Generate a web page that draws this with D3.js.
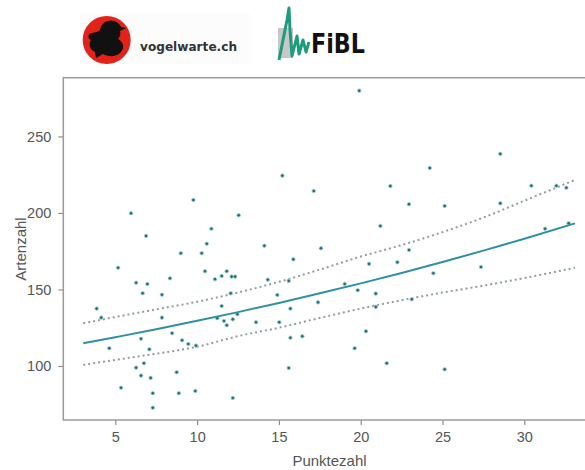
<!DOCTYPE html>
<html>
<head>
<meta charset="utf-8">
<script src="https://cdn.jsdelivr.net/npm/d3@7"></script>
<style>
  body { margin: 0; background: #fff; }
  svg { display: block; font-family: "Liberation Sans", Arial, sans-serif; }
</style>
</head>
<body>
<div id="main"></div>
<script>
// points (Punktezahl, Artenzahl)
const pointX = [9.77, 5.96, 12.54, 6.88, 10.87, 10.59, 9.00, 10.28, 5.17, 10.48,
  11.81, 11.09, 11.50, 12.11, 12.32, 6.27, 6.96, 8.34, 6.67, 7.85,
  3.86, 4.14, 7.85, 12.05, 11.50, 11.23, 11.64, 11.81, 12.18, 8.47,
  6.57, 4.63, 7.08, 9.08, 9.46, 9.93, 6.27, 6.75, 6.57, 7.16,
  8.75, 5.35, 7.29, 8.88, 9.89, 7.29, 12.18, 19.91, 15.21, 17.13,
  21.81, 22.95, 21.20, 14.11, 17.57, 22.95, 15.88, 14.32, 15.60, 20.51,
  22.24, 14.90, 19.02, 19.82, 20.92, 17.39, 15.70, 20.92, 12.46, 13.60,
  15.02, 15.70, 16.43, 20.32, 19.63, 21.59, 15.60, 28.53, 24.22, 25.13,
  28.53, 30.43, 31.96, 32.57, 31.27, 32.71, 24.44, 27.35, 23.12, 25.13];
const pointY = [208.5, 199.8, 198.5, 185.0, 189.7, 179.9, 173.7, 173.7, 164.2, 161.9,
  161.9, 156.7, 158.8, 158.4, 158.4, 154.4, 153.6, 157.3, 147.5, 146.6,
  137.5, 131.6, 131.6, 147.5, 139.2, 131.2, 129.4, 126.6, 130.5, 121.4,
  117.8, 111.6, 110.9, 116.8, 114.4, 113.3, 98.9, 101.8, 93.7, 92.2,
  95.9, 85.8, 82.2, 82.2, 83.7, 72.7, 79.1, 279.9, 224.4, 214.4,
  217.6, 205.7, 191.5, 178.6, 176.9, 175.8, 169.7, 156.4, 155.6, 166.7,
  167.8, 146.4, 153.6, 149.5, 147.3, 141.6, 137.5, 138.6, 133.8, 128.6,
  128.6, 118.5, 119.4, 122.7, 111.6, 101.8, 98.7, 238.6, 229.4, 204.6,
  206.3, 217.8, 217.8, 216.5, 189.7, 193.3, 160.6, 164.7, 143.6, 97.8];

// fitted line and its band
const fitX = [3.04, 5, 7.5, 10, 12.5, 15, 17.5, 20, 22.5, 25, 27.5, 30, 33.1];
const fitY = [114.8, 118.8, 124.0, 129.5, 135.2, 141.2, 147.5, 154.0, 160.8, 168.0, 175.4, 183.2, 193.2];
const upperY = [127.9, 132.0, 137.0, 142.0, 148.0, 155.0, 163.0, 171.5, 179.0, 187.5, 197.0, 208.0, 221.6];
const lowerY = [100.7, 104.0, 108.0, 112.6, 119.5, 125.0, 131.4, 137.5, 143.0, 148.0, 152.5, 157.5, 164.2];

const xTicks = [5, 10, 15, 20, 25, 30];
const yTicks = [100, 150, 200, 250];

const width = 585;
const height = 470;

const svg = d3.select("#main")
  .append("svg")
  .attr("width", width)
  .attr("height", height);

// ---- header logos ----
const logo = svg.append("g");

logo.append("rect")
  .attr("x", 80).attr("y", 14).attr("width", 170).attr("height", 50)
  .style("fill", "#fcfcfc");

logo.append("circle")
  .attr("cx", 106.7).attr("cy", 40).attr("r", 24)
  .style("fill", "#e2231a");

// rough bird silhouette
logo.append("path")
  .attr("d", "M100,30 C101,23 108,19 114,21 C118,22 120,25 121,27 L126,28 L120,31 C121,34 120,37 118,39 C124,42 125,49 120,53 C116,57 108,57 103,54 L96,58 L95,52 C90,50 88,44 91,40 C87,38 88,33 92,33 C95,32 98,32 100,30 Z")
  .style("fill", "#111");

logo.append("text")
  .attr("x", 140).attr("y", 51)
  .attr("textLength", 97).attr("lengthAdjust", "spacingAndGlyphs")
  .style("font-family", "'DejaVu Sans', sans-serif")
  .style("font-weight", "bold")
  .style("font-size", "13px")
  .style("fill", "#333")
  .text("vogelwarte.ch");

logo.append("rect")
  .attr("x", 278).attr("y", 28).attr("width", 15).attr("height", 30)
  .style("fill", "#c8c8c8");

logo.append("path")
  .attr("d", "M279,60 L287,20 L289,8 L290,30 L292,56 L297,36 L299,54 L303,40 L306,52 L309,42")
  .style("fill", "none")
  .style("stroke", "#1e9a7c")
  .style("stroke-width", 3)
  .style("stroke-linejoin", "round");

logo.append("text")
  .attr("x", 311).attr("y", 53)
  .attr("textLength", 54).attr("lengthAdjust", "spacingAndGlyphs")
  .style("font-family", "'DejaVu Sans', sans-serif")
  .style("font-weight", "bold")
  .style("font-size", "27px")
  .style("fill", "#111")
  .text("FiBL");

// ---- plot ----
const plotLeft = 63.3;
const plotTop = 77.7;
const plotBottom = 420;

const xScale = d3.scaleLinear()
  .domain([1.82, 34.5])
  .range([plotLeft, plotLeft + 16.36 * (34.5 - 1.82)]);

const yScale = d3.scaleLinear()
  .domain([64.7, 288.4])
  .range([plotBottom, plotTop]);

const xAxis = d3.axisBottom(xScale)
  .tickValues(xTicks)
  .tickSize(5)
  .tickPadding(7)
  .tickSizeOuter(0);

const yAxis = d3.axisLeft(yScale)
  .tickValues(yTicks)
  .tickSize(5)
  .tickPadding(7)
  .tickSizeOuter(0);

const gx = svg.append("g")
  .attr("transform", "translate(0," + plotBottom + ")")
  .call(xAxis);

const gy = svg.append("g")
  .attr("transform", "translate(" + plotLeft + ",0)")
  .call(yAxis);

[gx, gy].forEach(g => {
  g.select(".domain").remove();
  g.selectAll("line").style("stroke", "#8c8c8c").style("stroke-width", 1.2);
  g.selectAll("text")
    .style("fill", "#555")
    .style("font-size", "14.5px")
    .style("font-family", "'Liberation Sans', Arial, sans-serif");
});

// frame (right side runs off the picture)
svg.append("rect")
  .attr("x", plotLeft)
  .attr("y", plotTop)
  .attr("width", xScale.range()[1] - plotLeft)
  .attr("height", plotBottom - plotTop)
  .style("fill", "none")
  .style("stroke", "#9a9a9a")
  .style("stroke-width", 1.5);

svg.append("text")
  .attr("transform", "translate(" + 329.5 + "," + 466 + ")")
  .style("text-anchor", "middle")
  .style("fill", "#555")
  .style("font-size", "15px")
  .text("Punktezahl");

svg.append("text")
  .attr("transform", "translate(" + 26 + "," + 249 + ") rotate(-90)")
  .style("text-anchor", "middle")
  .style("fill", "#555")
  .style("font-size", "15px")
  .text("Artenzahl");

// band and fit
const band = fitX.map((x, i) => ({ x: x, fit: fitY[i], up: upperY[i], lo: lowerY[i] }));

const lineOf = key => d3.line()
  .curve(d3.curveMonotoneX)
  .x(d => xScale(d.x))
  .y(d => yScale(d[key]));

["up", "lo"].forEach(key => {
  svg.append("path")
    .datum(band)
    .attr("d", lineOf(key))
    .style("fill", "none")
    .style("stroke", "#919e9e")
    .style("stroke-width", 2)
    .style("stroke-dasharray", "2,3");
});

// points
const points = pointX.map((x, i) => ({ x: x, y: pointY[i] }));

svg.selectAll("circle.pt")
  .data(points)
  .enter()
  .append("circle")
  .attr("class", "pt")
  .attr("cx", d => xScale(d.x))
  .attr("cy", d => yScale(d.y))
  .attr("r", 1.8)
  .style("fill", "#246e72")
  .style("stroke", "#a6d4d4")
  .style("stroke-width", 0.8);

svg.append("path")
  .datum(band)
  .attr("d", lineOf("fit"))
  .style("fill", "none")
  .style("stroke", "#2f90a3")
  .style("stroke-width", 2);
</script>
</body>
</html>
